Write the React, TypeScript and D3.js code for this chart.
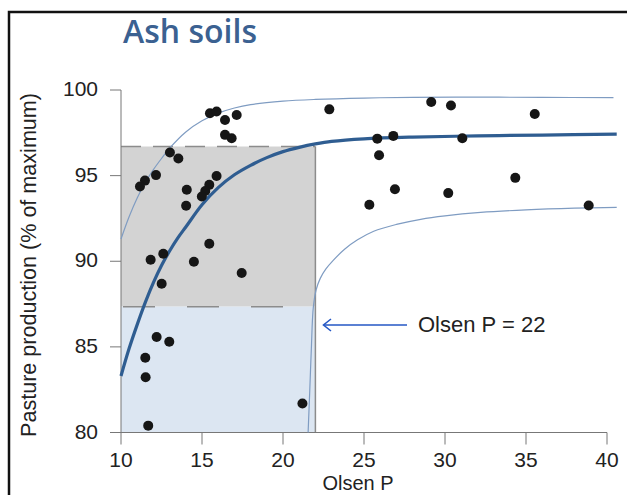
import React from 'react';
import * as d3 from 'd3';

// Observed points (Olsen P, % of maximum pasture production)
const olsenP = [
  15.49, 15.9, 17.14, 16.42, 16.42, 16.83, 13.02, 13.54, 12.16, 11.48, 11.17,
  15.9, 15.45, 15.2, 14.99, 14.06, 14.02, 15.45, 12.61, 11.83, 14.5, 17.45,
  12.51, 12.2, 12.98, 11.5, 11.52, 21.2, 11.68,
  22.86, 29.15, 30.37, 35.54, 25.82, 26.81, 31.07, 25.93, 34.34, 26.91, 30.2, 25.33, 38.87,
];
const production = [
  98.64, 98.74, 98.54, 98.25, 97.38, 97.18, 96.35, 96.0, 95.03, 94.71, 94.36,
  94.98, 94.46, 94.1, 93.78, 94.17, 93.24, 91.02, 90.44, 90.09, 89.97, 89.31,
  88.69, 85.58, 85.3, 84.36, 83.23, 81.69, 80.4,
  98.87, 99.3, 99.1, 98.6, 97.16, 97.32, 97.18, 96.19, 94.87, 94.2, 93.98, 93.3, 93.26,
];

// Fitted response curve
const fitX = [10, 10.5, 11, 11.5, 12, 12.5, 13, 13.5, 14, 15, 16, 17, 18, 19, 20, 21, 22, 23, 25, 28, 32, 36, 40.6];
const fitY = [83.3, 84.9, 86.3, 87.6, 88.75, 89.75, 90.6, 91.35, 92.0, 93.3, 94.3, 95.05, 95.6, 96.05, 96.4, 96.65, 96.85, 97.0, 97.15, 97.25, 97.32, 97.37, 97.42];

// Upper and lower bands
const upperX = [10, 10.5, 11, 11.5, 12, 12.5, 13, 14, 15, 16, 17, 18, 20, 22, 25, 28, 32, 36, 40.4];
const upperY = [91.3, 92.6, 93.7, 94.6, 95.35, 96.0, 96.6, 97.55, 98.2, 98.65, 98.95, 99.15, 99.35, 99.45, 99.53, 99.57, 99.58, 99.57, 99.55];
const lowerX = [21.55, 21.65, 21.75, 21.87, 22.05, 22.3, 22.65, 23.1, 23.8, 24.6, 25.6, 27, 28.5, 30, 32.2, 35, 38, 40.6];
const lowerY = [80, 82.4, 84.9, 87.3, 88.35, 89.0, 89.55, 90.05, 90.7, 91.25, 91.75, 92.15, 92.45, 92.65, 92.85, 93.0, 93.1, 93.15];

const xTicks = [10, 15, 20, 25, 30, 35, 40];
const yTicks = [80, 85, 90, 95, 100];

const criticalP = 22;
const bandTop = 96.7;
const bandBottom = 87.35;

const W = 627;
const H = 495;

const App: React.FC = () => {
  const x = d3.scaleLinear().domain([10, 40]).range([121, 607]);
  const y = d3.scaleLinear().domain([80, 100]).range([432.5, 90]);

  const line = d3
    .line<[number, number]>()
    .x(d => x(d[0]))
    .y(d => y(d[1]))
    .curve(d3.curveCatmullRom.alpha(0.5));

  const fit = line(fitX.map((v, i) => [v, fitY[i]]));
  const upper = line(upperX.map((v, i) => [v, upperY[i]]));
  const lower = line(lowerX.map((v, i) => [v, lowerY[i]]));

  const axisFont = '"Liberation Sans", Arial, sans-serif';

  return (
    <svg
      width={W}
      height={H}
      style={{ position: 'absolute', left: 0, top: 0, background: '#fff' }}
    >
      {/* frame */}
      <path d={`M9,${H} V12 H${W}`} fill="none" stroke="#111" strokeWidth={2.5} />

      <text
        x={190}
        y={43}
        textAnchor="middle"
        fill="#3b6191"
        style={{ fontFamily: '"Open Sans", sans-serif', fontWeight: 600, fontSize: 32 }}
      >
        Ash soils
      </text>

      {/* shaded regions */}
      <rect
        x={x(10)}
        y={y(bandTop)}
        width={x(criticalP) - x(10)}
        height={y(bandBottom) - y(bandTop)}
        fill="#d3d3d3"
      />
      <rect
        x={x(10)}
        y={y(bandBottom)}
        width={x(criticalP) - x(10)}
        height={y(80) - y(bandBottom)}
        fill="#dce6f2"
      />
      <line x1={x(10)} x2={x(criticalP)} y1={y(bandTop)} y2={y(bandTop)} stroke="#8c8c8c" strokeWidth={1.5} strokeDasharray="20,12" />
      <line x1={x(10)} x2={x(criticalP)} y1={y(bandBottom)} y2={y(bandBottom)} stroke="#8c8c8c" strokeWidth={1.5} strokeDasharray="32,32" strokeDashoffset={-2} />
      <line x1={x(criticalP)} x2={x(criticalP)} y1={y(80)} y2={y(bandTop)} stroke="#8c8c8c" strokeWidth={1.5} />

      {/* axes */}
      <line x1={x(10)} x2={x(10)} y1={y(100)} y2={y(80)} stroke="#777" strokeWidth={1} />
      <line x1={x(10)} x2={x(40)} y1={y(80)} y2={y(80)} stroke="#777" strokeWidth={1} />
      {yTicks.map(t => (
        <g key={`y${t}`}>
          <line x1={x(10) - 11} x2={x(10)} y1={y(t)} y2={y(t)} stroke="#777" strokeWidth={1} />
          <text x={98} y={y(t) + 6} textAnchor="end" fill="#222" style={{ fontFamily: axisFont, fontSize: 21 }}>
            {t}
          </text>
        </g>
      ))}
      {xTicks.map(t => (
        <g key={`x${t}`}>
          <line x1={x(t)} x2={x(t)} y1={y(80)} y2={y(80) + 12} stroke="#777" strokeWidth={1} />
          <text x={x(t)} y={467} textAnchor="middle" fill="#222" style={{ fontFamily: axisFont, fontSize: 21 }}>
            {t}
          </text>
        </g>
      ))}
      <text x={358} y={490} textAnchor="middle" fill="#222" style={{ fontFamily: axisFont, fontSize: 20 }}>
        Olsen P
      </text>
      <text
        transform="translate(36,265) rotate(-90)"
        textAnchor="middle"
        fill="#222"
        textLength={344}
        lengthAdjust="spacingAndGlyphs"
        style={{ fontFamily: axisFont, fontSize: 22 }}
      >
        Pasture production (% of maximum)
      </text>

      {/* curves */}
      <path d={upper ?? ''} fill="none" stroke="#7f9cc2" strokeWidth={1.2} />
      <path d={lower ?? ''} fill="none" stroke="#7f9cc2" strokeWidth={1.2} />
      <path d={fit ?? ''} fill="none" stroke="#2f5d91" strokeWidth={3.2} />

      {/* points */}
      {olsenP.map((p, i) => (
        <circle key={i} cx={x(p)} cy={y(production[i])} r={5} fill="#161616" />
      ))}

      {/* annotation */}
      <line x1={407} x2={324} y1={325} y2={325} stroke="#2457c5" strokeWidth={1.6} />
      <path d="M331,319 L323.5,325 L331,331" fill="none" stroke="#2457c5" strokeWidth={1.6} />
      <text x={418} y={332} fill="#222" style={{ fontFamily: axisFont, fontSize: 22 }}>
        Olsen P = 22
      </text>
    </svg>
  );
};

export default App;
